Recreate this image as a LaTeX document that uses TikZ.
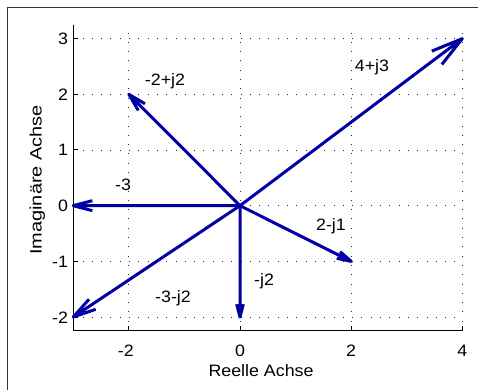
\documentclass[tikz,border=0pt]{standalone}
\usepackage{fontspec}
\setmainfont{Liberation Sans}[FakeStretch=1.08]
\usetikzlibrary{calc}
\definecolor{vecblue}{RGB}{0,0,165}
\begin{document}
\begin{tikzpicture}[x=55.6pt,y=55.7pt,
  font=\fontsize{16.5}{19}\selectfont,
  vec/.style={draw=vecblue,line width=3pt,line join=round},
  gridline/.style={draw=black!85,line width=0.9pt,dash pattern=on 0.9pt off 8.4pt},
  axisline/.style={draw=black,line width=1pt},
  framebox/.style={draw=black!80,line width=1pt},
  lbl/.style={inner sep=0pt,anchor=base}]
\useasboundingbox (-4.317,-3.309) rectangle (4.281,3.693);
% outer frame
\draw[framebox] (-4.19,-3.309) -- (-4.19,3.567) -- (4.281,3.567);
% grid
\foreach \x in {-2,0,2,4} \draw[gridline] (\x,-2.25) -- (\x,3.25);
\foreach \y in {-2,...,3} \draw[gridline] (-3,\y) -- (4,\y);
% axes
\draw[axisline] (-3,3.25) -- (-3,-2.25) -- (4,-2.25);
\foreach \x in {-2,0,2,4} \draw[axisline] (\x,-2.25) -- (\x,-2.16);
\foreach \y in {-2,...,3} \draw[axisline] (-3,\y) -- (-2.91,\y);
% tick labels
\foreach \x in {0,2,4} \node[lbl] (xl\x) at (\x,-2.715) {\x};
\node[lbl] (xlm2) at (-2,-2.715) {\llap{-}2};
\foreach \y in {-2,...,3} \node[lbl,anchor=base east] (yl\y) at (-3.09,\y-0.108) {\y};
% axis labels
\node[lbl] (xlabel) at (0.378,-3.07) {Reelle Achse};
\node[lbl,rotate=90] (ylabel) at (-3.567,0.461) {\scalebox{1.12}[1]{Imaginäre Achse}};
% vectors
\coordinate (O) at (0,0);
\foreach \n/\a/\b in {z1/4/3,z2/-2/2,z3/-3/0,z4/2/-1,z5/0/-2,z6/-3/-2}{
  \coordinate (\n) at (\a,\b);
  \draw[vec] (O) -- (\n)
    ($(\n)!0.115!(O)!0.261!90:(\n)$) -- (\n) -- ($(\n)!0.115!(O)!0.261!-90:(\n)$);
}
% vector labels
\node[lbl] (t1) at (2.374,2.418) {4+j3};
\node[lbl] (t2) at (-1.349,2.149) {-2+j2};
\node[lbl] (t3) at (-2.104,0.264) {-3};
\node[lbl] (t4) at (1.637,-0.454) {2-j1};
\node[lbl] (t5) at (0.432,-1.442) {-j2};
\node[lbl] (t6) at (-1.205,-1.747) {-3-j2};
\end{tikzpicture}
\end{document}
